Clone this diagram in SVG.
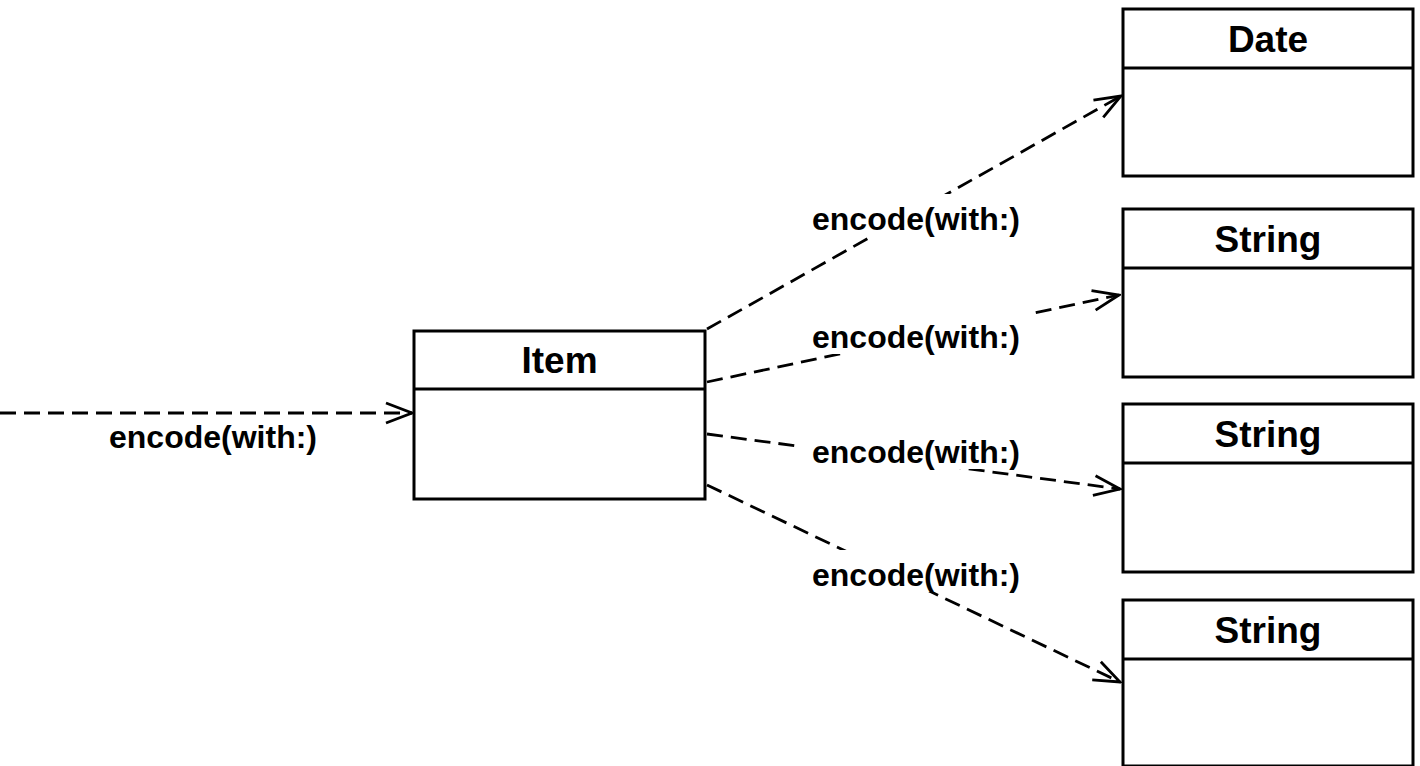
<svg xmlns="http://www.w3.org/2000/svg" width="1420" height="766" viewBox="0 0 1420 766">
<style>
.box{fill:#fff;stroke:#000;stroke-width:3}
.div{stroke:#000;stroke-width:3}
.title{font-family:"Liberation Sans",Arial,sans-serif;font-weight:bold;font-size:37px;text-anchor:middle;fill:#000}
.lbl{font-family:"Liberation Sans",Arial,sans-serif;font-weight:bold;font-size:32px;fill:#000}
.conn{fill:none;stroke:#000;stroke-width:2.8;stroke-dasharray:16 8}
.lblbg{fill:#fff;stroke:none}
</style>
<defs>
<marker id="open" markerUnits="userSpaceOnUse" viewBox="0 0 30 26" refX="28" refY="13" markerWidth="30" markerHeight="26" orient="auto">
<path d="M2,3 L28,13 L2,23" fill="none" stroke="#000" stroke-width="2.8" stroke-dasharray="none"/>
</marker>
</defs>
<rect width="1420" height="766" fill="#fff"/>
<g id="connectors">
<line class="conn" x1="0" y1="413" x2="412" y2="413" marker-end="url(#open)"/>
<line class="conn" x1="707" y1="329" x2="1121" y2="96" marker-end="url(#open)"/>
<line class="conn" x1="707" y1="382" x2="1119" y2="295" marker-end="url(#open)"/>
<line class="conn" x1="707" y1="434" x2="1120" y2="489" marker-end="url(#open)"/>
<line class="conn" x1="707" y1="485" x2="1120" y2="682" marker-end="url(#open)"/>
<text class="lbl" x="213" y="448" text-anchor="middle">encode(with:)</text>
<rect class="lblbg" x="797" y="194" width="235" height="42"/>
<text class="lbl" x="812" y="230">encode(with:)</text>
<rect class="lblbg" x="797" y="312" width="235" height="42"/>
<text class="lbl" x="812" y="348">encode(with:)</text>
<rect class="lblbg" x="797" y="427" width="235" height="42"/>
<text class="lbl" x="812" y="463">encode(with:)</text>
<rect class="lblbg" x="797" y="550" width="235" height="42"/>
<text class="lbl" x="812" y="586">encode(with:)</text>
</g>
<g id="item">
<rect class="box" x="414" y="331" width="291" height="168"/>
<line class="div" x1="414" y1="389" x2="705" y2="389"/>
<text class="title" x="559.5" y="373">Item</text>
</g>
<g id="date">
<rect class="box" x="1123" y="9" width="290" height="167"/>
<line class="div" x1="1123" y1="68" x2="1413" y2="68"/>
<text class="title" x="1268" y="52">Date</text>
</g>
<g id="string1">
<rect class="box" x="1123" y="209" width="290" height="168"/>
<line class="div" x1="1123" y1="268" x2="1413" y2="268"/>
<text class="title" x="1268" y="252">String</text>
</g>
<g id="string2">
<rect class="box" x="1123" y="404" width="290" height="168"/>
<line class="div" x1="1123" y1="463" x2="1413" y2="463"/>
<text class="title" x="1268" y="447">String</text>
</g>
<g id="string3">
<rect class="box" x="1123" y="600" width="290" height="166"/>
<line class="div" x1="1123" y1="659" x2="1413" y2="659"/>
<text class="title" x="1268" y="643">String</text>
</g>
</svg>
